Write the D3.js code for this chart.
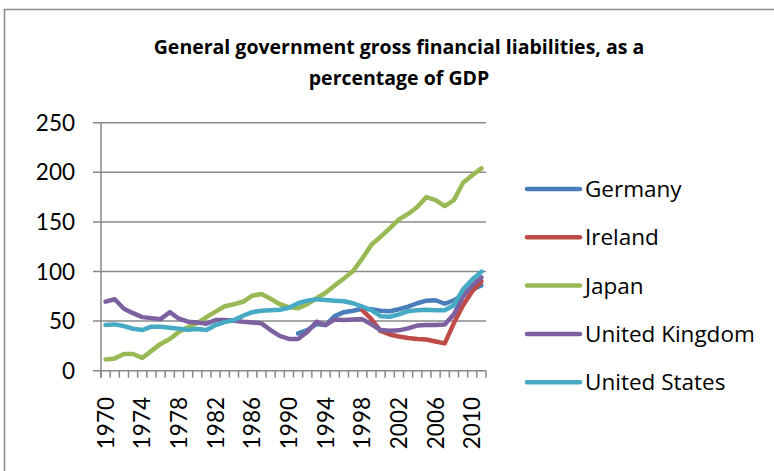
<!DOCTYPE html>
<html>
<head>
<meta charset="utf-8">
<script src="https://cdn.jsdelivr.net/npm/d3@7"></script>
<style>
  body { margin: 0; background: #fff; }
  text { font-family: Lato, "Open Sans", sans-serif; fill: #000; }
  .title, .legend text { font-family: "Open Sans", Lato, sans-serif; }
</style>
</head>
<body>
<div id="chart"></div>
<script>
// categories (1970 .. 2011)
const years = d3.range(1970, 2012);
const tickYears = [1970, 1974, 1978, 1982, 1986, 1990, 1994, 1998, 2002, 2006, 2010];
const yTicks = [0, 50, 100, 150, 200, 250];

const seriesNames = ["Germany", "Ireland", "Japan", "United Kingdom", "United States"];
const seriesColors = ["#4a7ebb", "#be4b48", "#98b954", "#7d60a0", "#46aac5"];

// values, % of GDP (null = no data)
const germany = [null, null, null, null, null, null, null, null, null, null,
  null, null, null, null, null, null, null, null, null, null,
  null, 37.6, 41, 47, 46, 55, 59, 60.5, 62.5, 62, 60.5, 60, 62, 64.5, 68, 70.6, 71, 67.5, 71, 77, 82, 86];
const ireland = [null, null, null, null, null, null, null, null, null, null,
  null, null, null, null, null, null, null, null, null, null,
  null, null, null, null, null, null, null, null, 61, 52, 40, 36.5, 34.5, 33, 32, 31.5, 29.5, 27.5, 48, 66, 80, 90];
const japan = [11.4, 12.4, 16.8, 16.8, 12.8, 20, 27, 32, 39, 44, 48, 54, 59.5, 65, 67, 69.5, 75.6, 77.3, 72.6, 67,
  64, 63, 67, 73, 78.6, 86, 93, 100.5, 113, 127, 135, 143.5, 152.6, 158, 165, 175, 172, 166, 172, 189.5, 197, 204];
const unitedKingdom = [69.6, 72, 62.5, 58, 54, 53, 52, 59, 52.4, 49.4, 48.7, 47.4, 51, 51, 50.4, 49.4, 48.7, 47.7, 41, 35,
  32, 32, 39, 49.4, 46, 51.7, 51, 51.7, 52, 46.7, 41, 40.3, 40.7, 42.7, 45.5, 46, 46, 46.5, 57, 75, 86, 94];
const unitedStates = [46, 46.7, 45, 42.3, 41, 44.4, 44.4, 43.3, 42.3, 41.3, 42, 41, 46, 49, 51, 55.4, 59, 60.5, 61, 61.5,
  63.5, 68, 70.6, 72, 71.2, 70.6, 70, 68, 64.5, 61, 55, 54.4, 56.8, 60, 61, 61.5, 61, 61, 66, 82, 92, 99.8];

const seriesValues = [germany, ireland, japan, unitedKingdom, unitedStates];

const W = 774, H = 471;
const svg = d3.select("#chart").append("svg").attr("width", W).attr("height", H);

// outer chart border (runs off the right and bottom of the picture)
svg.append("rect")
  .attr("x", 4.5).attr("y", 9.5)
  .attr("width", W + 10).attr("height", H + 10)
  .attr("fill", "none").attr("stroke", "#8c8c8c").attr("stroke-width", 1.5);

// title
const title = svg.append("text")
  .attr("class", "title")
  .attr("text-anchor", "middle")
  .attr("font-weight", "bold")
  .attr("font-size", 19.5);
title.append("tspan").attr("x", 399).attr("y", 54).text("General government gross financial liabilities, as a");
title.append("tspan").attr("x", 399).attr("y", 85).text("percentage of GDP");

const plotLeft = 101, plotRight = 486, plotTop = 122.7, plotBottom = 370.7;

const x = d3.scaleBand().domain(years).range([plotLeft, plotRight]).paddingInner(0).paddingOuter(0);
const y = d3.scaleLinear().domain([0, 250]).range([plotBottom, plotTop]);

// gridlines + y ticks
svg.append("g").selectAll("line").data(yTicks).enter().append("line")
  .attr("x1", plotLeft - 8).attr("x2", plotRight)
  .attr("y1", d => y(d)).attr("y2", d => y(d))
  .attr("stroke", "#888").attr("stroke-width", 1.5);

svg.append("g").selectAll("text").data(yTicks).enter().append("text")
  .attr("x", 75).attr("y", d => y(d))
  .attr("dy", "0.36em")
  .attr("text-anchor", "end")
  .attr("font-size", 22.5)
  .text(d => d);

// y axis line
svg.append("line")
  .attr("x1", plotLeft).attr("x2", plotLeft).attr("y1", plotTop).attr("y2", plotBottom + 7)
  .attr("stroke", "#888").attr("stroke-width", 1.5);

// x ticks between categories
const tickPos = years.map(d => x(d)).concat([x(years[years.length - 1]) + x.bandwidth()]);
svg.append("g").selectAll("line").data(tickPos).enter().append("line")
  .attr("x1", d => d).attr("x2", d => d)
  .attr("y1", plotBottom).attr("y2", plotBottom + 7)
  .attr("stroke", "#888").attr("stroke-width", 1.5);

// x labels, rotated
svg.append("g").selectAll("text").data(tickYears).enter().append("text")
  .attr("transform", d => "translate(" + (x(d) + x.bandwidth() / 2) + ",397) rotate(-90)")
  .attr("dy", "0.36em")
  .attr("text-anchor", "end")
  .attr("font-size", 22.5)
  .text(d => d);

// lines
const line = d3.line()
  .defined(d => d != null)
  .x((d, i) => x(years[i]) + x.bandwidth() / 2)
  .y(d => y(d));

svg.append("g").selectAll("path").data(seriesValues).enter().append("path")
  .attr("d", d => line(d))
  .attr("fill", "none")
  .attr("stroke", (d, i) => seriesColors[i])
  .attr("stroke-width", 4.5)
  .attr("stroke-linejoin", "round")
  .attr("stroke-linecap", "round");

// legend
const legend = svg.append("g").attr("class", "legend")
  .selectAll("g").data(seriesNames).enter().append("g")
  .attr("transform", (d, i) => "translate(0," + (189 + i * 48.3) + ")");
legend.append("line")
  .attr("x1", 527).attr("x2", 580)
  .attr("stroke", (d, i) => seriesColors[i])
  .attr("stroke-width", 4.5)
  .attr("stroke-linecap", "round");
legend.append("text")
  .attr("x", 585).attr("dy", "0.36em")
  .attr("font-size", 22.5)
  .text(d => d);
</script>
</body>
</html>
